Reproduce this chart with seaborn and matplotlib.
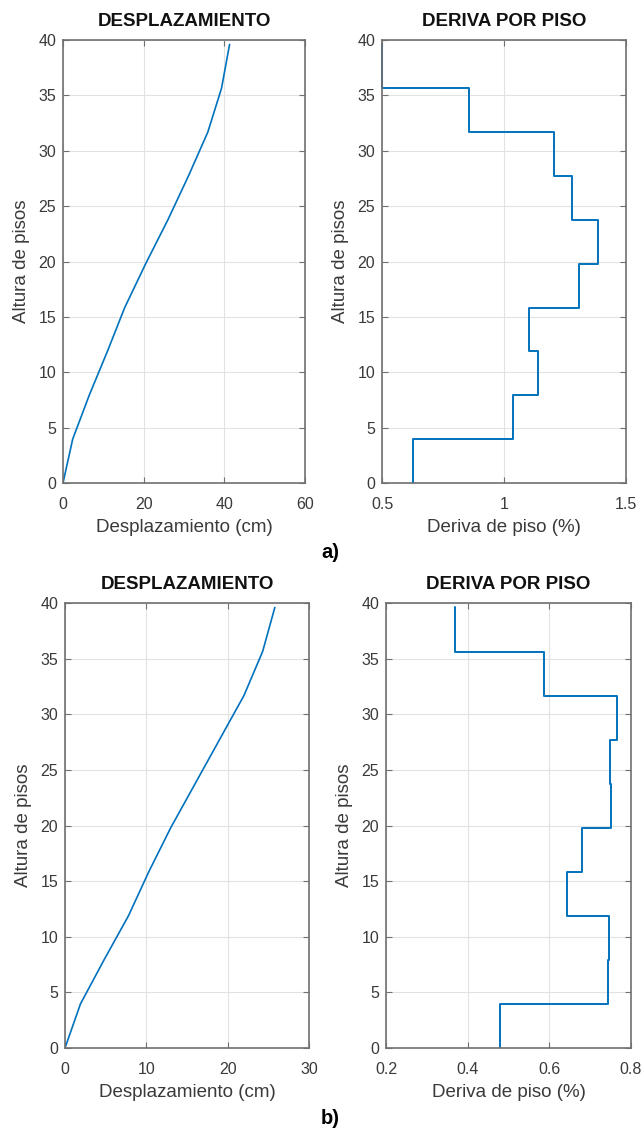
import numpy as np
import pandas as pd
import matplotlib
matplotlib.use("Agg")
import matplotlib.pyplot as plt
import seaborn as sns

# ---- data ----
alturas = [0, 3.96, 7.92, 11.88, 15.84, 19.8, 23.76, 27.72, 31.68, 35.64, 39.6]

desp_a = [0, 2.4, 6.5, 11.0, 15.3, 20.5, 26.0, 31.1, 35.9, 39.3, 41.3]
deriva_a = [0.625, 1.035, 1.138, 1.104, 1.309, 1.384, 1.277, 1.203, 0.856, 0.5]

desp_b = [0, 1.9, 4.8, 7.8, 10.3, 13.0, 16.0, 19.0, 22.0, 24.3, 25.8]
deriva_b = [0.478, 0.743, 0.745, 0.643, 0.679, 0.751, 0.749, 0.765, 0.588, 0.368]

xticks_desp_a = [0, 20, 40, 60]
xticks_deriva_a = [0.5, 1, 1.5]
xticks_desp_b = [0, 10, 20, 30]
xticks_deriva_b = [0.2, 0.4, 0.6, 0.8]
yticks = [0, 5, 10, 15, 20, 25, 30, 35, 40]

sns.set_style("white")
plt.rcParams['font.family'] = ['Liberation Sans', 'DejaVu Sans']

LINE = '#0072BD'
TXT = '#3a3a3a'
SPINE = '#707070'
GRID = '#e2e2e2'

fig = plt.figure(figsize=(6.43, 11.37), dpi=100)
W, H = 643, 1137

def add_ax(x0, x1, y0, y1):
    return fig.add_axes([x0 / W, 1 - y1 / H, (x1 - x0) / W, (y1 - y0) / H])

def style(ax, xticks, xlim, title, xlabel):
    ax.set_xlim(*xlim)
    ax.set_ylim(0, 40)
    ax.set_xticks(xticks)
    ax.set_xticklabels([f"{t:g}" for t in xticks])
    ax.set_yticks(yticks)
    ax.grid(True, color=GRID, linewidth=0.8)
    ax.set_axisbelow(True)
    for s in ax.spines.values():
        s.set_color(SPINE)
        s.set_linewidth(1.2)
        s.set_visible(True)
    ax.tick_params(direction='in', length=4, width=0.8, colors=SPINE,
                   labelcolor=TXT, labelsize=11.5, top=True, right=True,
                   bottom=True, left=True)
    ax.tick_params(axis='x', pad=10)
    ax.tick_params(axis='y', pad=5)
    ax.set_title(title, fontsize=13.5, fontweight='bold', color='#111111', pad=10)
    ax.set_xlabel(xlabel, fontsize=13.5, color=TXT, labelpad=5)
    ax.set_ylabel('Altura de pisos', fontsize=13.5, color=TXT, labelpad=6)

def stairs(drift):
    xs = np.repeat(np.asarray(drift, float), 2)
    ys = np.column_stack([alturas[:-1], alturas[1:]]).ravel()
    return pd.DataFrame({'x': xs, 'y': ys})

# top-left
ax1 = add_ax(63, 305, 40, 483)
sns.lineplot(data=pd.DataFrame({'x': desp_a, 'y': alturas}), x='x', y='y',
             sort=False, ax=ax1, color=LINE, linewidth=1.2, estimator=None)
style(ax1, xticks_desp_a, (0, 60), 'DESPLAZAMIENTO', 'Desplazamiento (cm)')

# top-right
ax2 = add_ax(382, 626, 40, 483)
sns.lineplot(data=stairs(deriva_a), x='x', y='y', sort=False, ax=ax2,
             color=LINE, linewidth=1.4, estimator=None, clip_on=False)
style(ax2, xticks_deriva_a, (0.5, 1.5), 'DERIVA POR PISO', 'Deriva de piso (%)')

# bottom-left
ax3 = add_ax(65, 309, 603, 1048)
sns.lineplot(data=pd.DataFrame({'x': desp_b, 'y': alturas}), x='x', y='y',
             sort=False, ax=ax3, color=LINE, linewidth=1.2, estimator=None)
style(ax3, xticks_desp_b, (0, 30), 'DESPLAZAMIENTO', 'Desplazamiento (cm)')

# bottom-right
ax4 = add_ax(386, 631, 603, 1048)
sns.lineplot(data=stairs(deriva_b), x='x', y='y', sort=False, ax=ax4,
             color=LINE, linewidth=1.4, estimator=None)
style(ax4, xticks_deriva_b, (0.2, 0.8), 'DERIVA POR PISO', 'Deriva de piso (%)')

fig.text(330 / W, 1 - 553 / H, 'a)', fontsize=14.5, fontweight='bold',
         ha='center', va='center', color='black')
fig.text(330 / W, 1 - 1118 / H, 'b)', fontsize=14.5, fontweight='bold',
         ha='center', va='center', color='black')

fig.savefig('out.png', dpi=100, facecolor='white')
